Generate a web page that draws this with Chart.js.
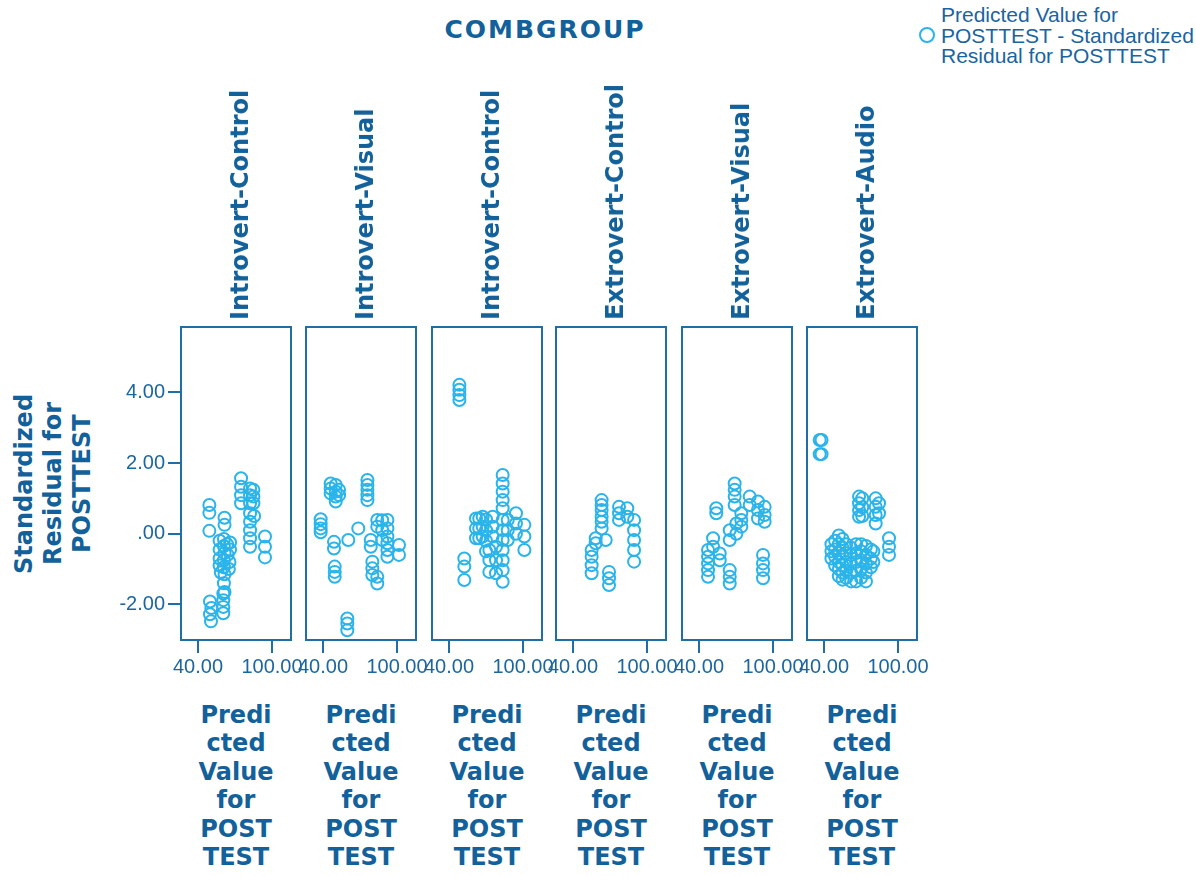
<!DOCTYPE html>
<html><head><meta charset="utf-8">
<script src="https://cdn.jsdelivr.net/npm/chart.js@4.4.0/dist/chart.umd.min.js"></script>
<style>
html,body{margin:0;padding:0;background:#fff;}
body{width:1196px;height:876px;position:relative;overflow:hidden;font-family:"DejaVu Sans",sans-serif;color:#13619a;}
canvas{position:absolute;}
.grp{position:absolute;top:0;height:320px;width:30px;writing-mode:vertical-rl;transform:rotate(180deg);font-weight:bold;font-size:24px;line-height:30px;text-align:start;white-space:nowrap;}
.ytitle{position:absolute;left:10px;top:327px;width:90px;height:313px;writing-mode:vertical-rl;transform:rotate(180deg);font-weight:bold;font-size:24px;line-height:29px;text-align:center;white-space:nowrap;}
.xtitle{position:absolute;top:701px;width:110px;font-weight:bold;font-size:24px;line-height:28.4px;text-align:center;}
.title{position:absolute;left:345px;width:400px;top:15px;font-weight:bold;font-size:25px;letter-spacing:2px;text-align:center;}
.leg{position:absolute;left:941px;top:5px;font-family:"Liberation Sans",Arial,sans-serif;font-size:21px;line-height:20.5px;color:#1a64a0;white-space:nowrap;}
.legdot{position:absolute;left:919px;top:27px;width:16px;height:16px;border:2.5px solid #2ab4ea;border-radius:50%;box-sizing:border-box;}
</style>
</head><body>
<div class="title">COMBGROUP</div>
<div class="legdot"></div>
<div class="leg">Predicted Value for<br>POSTTEST - Standardized<br>Residual for POSTTEST</div>
<div class="ytitle">Standardized<br>Residual for<br>POSTTEST</div>
<div id="root"></div>
<script>
// ---- data ----
const groups = ["Introvert-Control","Introvert-Visual","Introvert-Control","Extrovert-Control","Extrovert-Visual","Extrovert-Audio"];
const xTickValues = [40, 100];
const yTickValues = [-2, 0, 2, 4];
const xAxisTitleLines = ["Predi","cted","Value","for","POST","TEST"];

const introControlA = [
 [49.2,0.81],[49.2,0.59],[49.2,0.08],
 [49.7,-1.92],[50.8,-2.1],[49.7,-2.28],[50.5,-2.48],
 [60.5,-1.69],[60.5,-1.88],[60.5,-2.07],[60.5,-2.25],
 [61.5,0.45],[61.5,0.25],[61,-0.15],[61,-0.35],[61.5,-0.55],[61,-0.75],[61,-0.95],[61.5,-1.15],[61,-1.4],[61.5,-1.65],
 [57.5,-0.2],[57.5,-0.45],[57.5,-0.7],[57.5,-0.9],[58.5,-1.1],
 [66,-0.25],[66,-0.45],[65.5,-0.8],[65,-1.0],[64,-0.6],[63.5,-0.3],
 [74.9,1.57],[74.9,1.33],[74.9,1.09],[74.9,0.86],
 [82.2,1.28],[82.2,1.09],[82.2,0.86],[82.2,0.58],[82.2,0.34],[82.2,0.1],[82.2,-0.13],[82.2,-0.37],
 [84.9,1.24],[84.9,1.05],[84.9,0.86],[85.5,0.5],
 [94.3,-0.08],[94.3,-0.37],[94.3,-0.67]
];
const introVisual = [
 [38.1,0.41],[38.1,0.27],[38.1,0.15],[38.1,0.04],
 [46.2,1.42],[46.2,1.28],[46.2,1.14],
 [50.3,1.38],[50.3,1.19],[50.3,1.05],[50.3,0.91],
 [53,1.24],[53,1.09],
 [48.9,-0.23],[48.9,-0.42],
 [49.5,-0.93],[49.5,-1.08],[49.5,-1.22],
 [59.7,-2.4],[59.7,-2.54],[59.7,-2.73],
 [60.5,-0.18],[68.6,0.15],
 [76,1.52],[76,1.38],[76,1.24],[76,1.09],[76,0.95],
 [78.7,-0.18],[78.7,-0.37],
 [80,-0.79],[80,-0.98],[80,-1.17],
 [84,-1.22],[84,-1.41],[84,0.39],[84,0.2],
 [92.2,0.39],[92.2,0.15],[92.2,-0.08],[92.2,-0.27],[92.2,-0.46],[92.2,-0.65],
 [88,0.1],[88,-0.18],[88,0.38],
 [101.6,-0.32],[101.6,-0.6]
];
const introControlB = [
 [48.4,4.21],[48.4,4.07],[48.4,3.92],[48.4,3.78],
 [52.4,-0.7],[52.4,-0.93],[52.4,-1.31],
 [61.9,0.43],[61.9,0.15],[61.9,-0.13],
 [64.5,0.43],[64.5,0.15],[64.5,-0.13],
 [67.3,0.48],[67.3,0.2],[67.3,-0.08],
 [70,0.4],[70,0.1],[70,-0.2],[70,-0.5],
 [72.7,-0.46],[72.7,-0.75],[72.7,-1.08],
 [75.4,0.48],[75.4,0.2],[75.4,-0.08],
 [78.1,-0.37],[78.1,-0.75],[78.1,-1.12],
 [83.5,1.66],[83.5,1.42],[83.5,1.19],[83.5,0.95],[83.5,0.72],[83.5,0.39],[83.5,0.1],[83.5,-0.18],[83.5,-0.46],[83.5,-0.75],[83.5,-1.03],[83.5,-1.36],
 [87.6,0.39],[87.6,0.1],[87.6,-0.18],
 [94.3,0.58],[94.3,0.29],[94.3,0.0],
 [101.1,0.25],[101.1,-0.08],[101.1,-0.46]
];
const extroControl = [
 [55.1,-0.46],[55.1,-0.65],[55.1,-0.89],[55.1,-1.12],
 [58.4,-0.13],[58.4,-0.27],
 [63.2,0.95],[63.2,0.81],[63.2,0.67],[63.2,0.48],[63.2,0.34],[63.2,0.15],
 [66.5,-0.18],
 [69.2,-1.08],[69.2,-1.26],[69.2,-1.45],
 [77.3,0.76],[77.3,0.58],[77.3,0.39],
 [84,0.72],[84,0.48],
 [89.5,0.39],[89.5,0.1],[89.5,-0.18],[89.5,-0.46],[89.5,-0.79]
];
const extroVisual = [
 [47.3,-0.46],[47.3,-0.65],[47.3,-0.84],[47.3,-1.03],[47.3,-1.22],
 [51.4,-0.13],[51.4,-0.37],
 [54,0.72],[54,0.58],
 [56.8,-0.56],[56.8,-0.75],
 [64.9,-1.03],[64.9,-1.22],[64.9,-1.41],
 [64.9,0.1],[64.9,-0.18],
 [68.9,1.42],[68.9,1.24],[68.9,1.05],[68.9,0.81],
 [70.3,0.29],[70.3,0.0],
 [74.3,0.58],[74.3,0.39],[74.3,0.2],
 [81.1,1.05],[81.1,0.81],
 [87.8,0.91],[87.8,0.67],[87.8,0.43],
 [93.2,0.76],[93.2,0.53],[93.2,0.34],
 [91.9,-0.6],[91.9,-0.84],[91.9,-1.03],[91.9,-1.26]
];
const extroAudio = [
 [36.5,2.65],[38,2.65],[36.5,2.25],[38,2.25],
 [68.4,1.05],[68.4,0.86],[68.4,0.67],[68.4,0.48],
 [71,1.0],[71,0.75],[71,0.5],
 [81.9,1.0],[81.9,0.76],[81.9,0.53],[81.9,0.29],
 [84.6,0.86],[84.6,0.58],
 [92.7,-0.13],[92.7,-0.37],[92.7,-0.6],
 [46,-0.3],[46,-0.5],[46,-0.7],
 [49,-0.2],[49,-0.45],[49,-0.65],[49,-0.9],
 [52,-0.05],[52,-0.3],[52,-0.55],[52,-0.8],[52,-1.0],[52,-1.2],
 [55,-0.15],[55,-0.4],[55,-0.65],[55,-0.9],[55,-1.1],[55,-1.3],
 [58,-0.3],[58,-0.55],[58,-0.8],[58,-1.05],[58,-1.25],
 [62,-0.4],[62,-0.6],[62,-0.85],[62,-1.1],[62,-1.35],
 [66,-0.3],[66,-0.55],[66,-0.8],[66,-1.05],[66,-1.35],
 [70,-0.3],[70,-0.5],[70,-0.75],[70,-1.0],[70,-1.25],
 [74,-0.35],[74,-0.6],[74,-0.85],[74,-1.1],[74,-1.35],
 [78,-0.45],[78,-0.7],[78,-0.95],
 [80,-0.5],[80,-0.8]
];
const panelSeries = [introControlA, introVisual, introControlB, extroControl, extroVisual, extroAudio];

// ---- layout / style ----
const panelLefts = [181, 306, 432, 556, 682, 807];
const panelW = 110, panelTop = 327, panelH = 313;
const padTop = 20, xAxisH = 50, yAxisW = 80;
const frameColor = '#1f6ea6', tickColor = '#1c66a0', pointColor = '#2ab4ea';
const xMin = 26.2, xMax = 115.4, yMin = -3.007, yMax = 5.847;

const fmt = v => (v === 0 ? '.00' : Number(v).toFixed(2));
const framePlugin = {id:'frame', afterDatasetsDraw(c){
  const a=c.chartArea, ctx=c.ctx; ctx.save(); ctx.strokeStyle=frameColor; ctx.lineWidth=2;
  ctx.strokeRect(a.left,a.top,a.right-a.left,a.bottom-a.top); ctx.restore(); }};

const root = document.getElementById('root');
panelSeries.forEach((pts, i) => {
  const L = panelLefts[i];
  const first = i === 0;
  const padL = first ? 20 : 40, padR = 40;
  const cv = document.createElement('canvas');
  const cw = padL + (first ? yAxisW : 0) + panelW + padR;
  const ch = padTop + panelH + xAxisH;
  cv.width = cw; cv.height = ch;
  cv.style.width = cw+'px'; cv.style.height = ch+'px';
  cv.style.left = (L - padL - (first ? yAxisW : 0)) + 'px';
  cv.style.top = (panelTop - padTop) + 'px';
  root.appendChild(cv);

  const g = document.createElement('div');
  g.className = 'grp'; g.textContent = groups[i];
  g.style.left = (L + panelW/2 + 4 - 15) + 'px';
  document.body.appendChild(g);
  const xt = document.createElement('div');
  xt.className = 'xtitle'; xt.innerHTML = xAxisTitleLines.join('<br>');
  xt.style.left = L + 'px';
  document.body.appendChild(xt);

  const gridOpts = {display:true, drawOnChartArea:false, drawTicks:true, tickLength:13, color:frameColor, lineWidth:2};
  const yScale = {type:'linear', min:yMin, max:yMax, display:first,
     afterBuildTicks:s=>{ s.ticks = yTickValues.map(v=>({value:v})); },
     ticks:{callback:v=>fmt(v), font:{family:'Liberation Sans', size:20}, color:tickColor, padding:3, autoSkip:false},
     grid:gridOpts, border:{display:false}};
  if (first) yScale.afterFit = s=>{ s.width = yAxisW; };
  new Chart(cv, {
    type:'scatter',
    data:{datasets:[{label:'Predicted Value for POSTTEST - Standardized Residual for POSTTEST',
      data: pts.map(p => ({x:p[0], y:p[1]})),
      pointStyle:'circle', pointRadius:6, pointBorderWidth:2,
      pointBorderColor:pointColor, pointBackgroundColor:'rgba(0,0,0,0)', showLine:false}]},
    options:{
      responsive:false, animation:false, devicePixelRatio:1,
      layout:{padding:{left:padL, right:padR, top:padTop, bottom:0}},
      plugins:{legend:{display:false}, tooltip:{enabled:false}},
      scales:{
        x:{type:'linear', min:xMin, max:xMax,
           afterBuildTicks:s=>{ s.ticks = xTickValues.map(v=>({value:v})); },
           afterFit:s=>{ s.height = xAxisH; },
           ticks:{callback:v=>fmt(v), font:{family:'Liberation Sans', size:20}, color:tickColor, padding:2, maxRotation:0, autoSkip:false},
           grid:gridOpts, border:{display:false}},
        y:yScale
      }
    },
    plugins:[framePlugin]
  });
});
</script>
</body></html>
